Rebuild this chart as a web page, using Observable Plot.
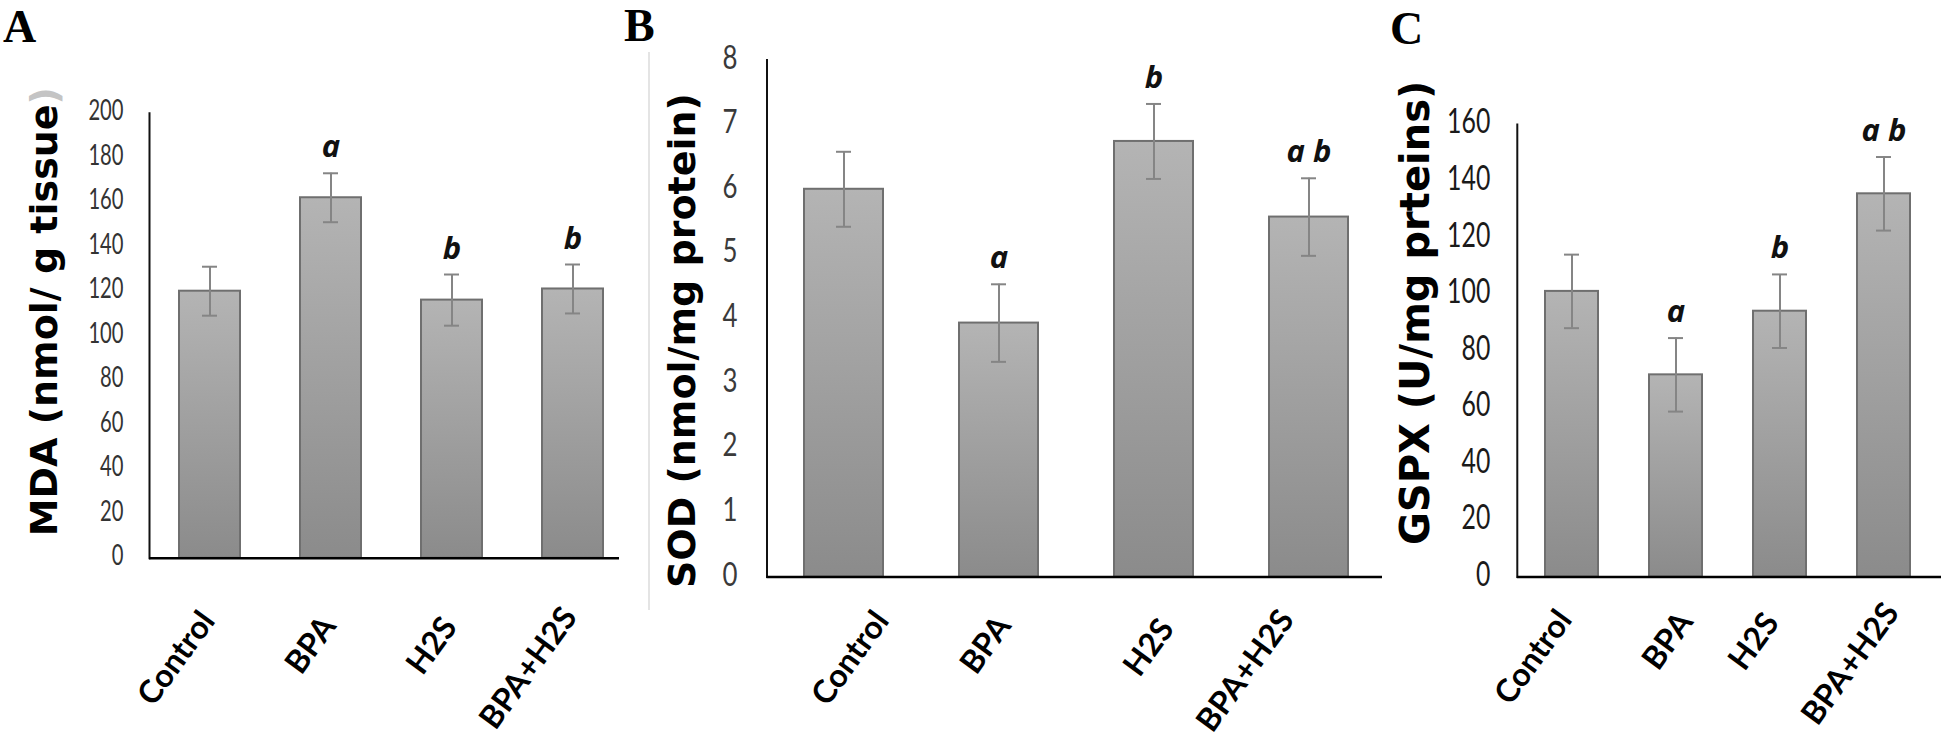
<!DOCTYPE html>
<html><head><meta charset="utf-8">
<script src="https://cdn.jsdelivr.net/npm/d3@7"></script>
<script src="https://cdn.jsdelivr.net/npm/@observablehq/plot@0.6"></script>
<style>
body{margin:0;background:#fff;}
#fig{position:relative;width:1944px;height:741px;overflow:hidden;background:#fff;}
.panel{position:absolute;top:0;}
.plabel{position:absolute;font-family:"Liberation Serif","Times New Roman",serif;font-weight:bold;font-size:46px;line-height:1.1;color:#000;}
.sep{position:absolute;left:648px;top:52px;width:2px;height:558px;background:#e4e4e4;}
</style></head><body>
<div id="fig">
  <div class="sep"></div>
  <div class="plabel" style="left:3px;top:2px">A</div>
  <div class="plabel" style="left:624px;top:1px">B</div>
  <div class="plabel" style="left:1390px;top:4px">C</div>
</div>
<script>
// ---- data ----
const groups = ["Control", "BPA", "H2S", "BPA+H2S"];

const mdaMean = [120, 162, 116, 121];
const mdaErr = [11, 11, 11.5, 11];
const mdaSig = ["", "a", "b", "b"];
const mdaTicks = [0, 20, 40, 60, 80, 100, 120, 140, 160, 180, 200];

const sodMean = [6.0, 3.93, 6.74, 5.57];
const sodErr = [0.58, 0.6, 0.58, 0.6];
const sodSig = ["", "a", "b", "a b"];
const sodTicks = [0, 1, 2, 3, 4, 5, 6, 7, 8];

const gpxMean = [101, 71.5, 94, 135.5];
const gpxErr = [13, 13, 13, 13];
const gpxSig = ["", "a", "b", "a b"];
const gpxTicks = [0, 20, 40, 60, 80, 100, 120, 140, 160];

const titles = ["MDA (nmol/ g tissue)", "SOD (nmol/mg protein)", "GSPX (U/mg prteins)"];

// ---- panels ----
function panel(cfg) {
  const data = groups.map((g, i) => ({g, v: cfg.mean[i], e: cfg.err[i], s: cfg.sig[i]}));
  const H = 741;
  const svg = Plot.plot({
    width: cfg.width, height: H,
    marginLeft: cfg.ml, marginRight: cfg.mr, marginTop: cfg.mt, marginBottom: cfg.mb,
    style: {background: "transparent", overflow: "visible"},
    x: {domain: groups, paddingInner: cfg.pi, paddingOuter: cfg.po, align: cfg.align},
    y: {domain: [cfg.ticks[0], cfg.ticks[cfg.ticks.length - 1]], nice: false},
    marks: [
      Plot.barY(data, {x: "g", y: "v", fill: `url(#${cfg.gid})`, stroke: "#6f6f6f", strokeWidth: 2}),
      Plot.ruleX(data, {x: "g", y1: d => d.v - d.e, y2: d => d.v + d.e, stroke: "#858585", strokeWidth: 2}),
      Plot.tickY(data, {x: "g", y: d => d.v + d.e, stroke: "#858585", strokeWidth: 2, insetLeft: cfg.cap, insetRight: cfg.cap}),
      Plot.tickY(data, {x: "g", y: d => d.v - d.e, stroke: "#858585", strokeWidth: 2, insetLeft: cfg.cap, insetRight: cfg.cap}),
      Plot.text(data, {x: "g", y: d => d.v + d.e, text: "s", lineAnchor: "bottom", dy: -16,
        fontSize: 31, fontWeight: "bold", fontStyle: "italic", fontFamily: "'Open Sans', sans-serif", fill: "#111"}),
      Plot.axisY({ticks: cfg.ticks, tickSize: 0, tickPadding: cfg.tp, dy: -2, label: null,
        fontSize: cfg.tfs, fontFamily: "Lato, sans-serif", color: cfg.tcol}),
      Plot.axisX({tickRotate: -54, tickSize: 0, tickPadding: cfg.xtp, dx: cfg.xdx, label: null,
        fontSize: 32, fontWeight: "bold", fontFamily: "Lato, sans-serif", color: "#000"}),
      Plot.frame({anchor: "left", stroke: "#111", strokeWidth: 2}),
      Plot.ruleY([cfg.ticks[0]], {stroke: "#000", strokeWidth: 2.5}),
      Plot.text([cfg.title], {frameAnchor: "left", rotate: -90, dx: cfg.tdx, dy: cfg.tdy,
        textAnchor: "middle", lineAnchor: "bottom",
        fontSize: cfg.tfz, fontWeight: "bold", fontFamily: "'DejaVu Sans', sans-serif", fill: "#000"})
    ]
  });
  const s = d3.select(svg);
  const lg = s.insert("defs", ":first-child").append("linearGradient")
    .attr("id", cfg.gid).attr("x1", 0).attr("y1", 0).attr("x2", 0).attr("y2", 1);
  lg.append("stop").attr("offset", "0%").attr("stop-color", "#b4b4b4");
  lg.append("stop").attr("offset", "100%").attr("stop-color", "#8b8b8b");
  // narrow the y tick labels like the reference's condensed digits
  s.selectAll('g[aria-label="y-axis tick label"] text').each(function () {
    const n = this.textContent.length;
    d3.select(this).attr("textLength", n * cfg.cw).attr("lengthAdjust", "spacingAndGlyphs");
  });
  // small per-label nudges of the rotated category labels (as placed in the reference)
  s.selectAll('g[aria-label="x-axis tick label"] text').each(function (d, i) {
    const k = groups.indexOf(this.textContent);
    const n = cfg.nudge[k >= 0 ? k : i] || [0, 0];
    const t = this.getAttribute("transform") || "";
    this.setAttribute("transform", `translate(${n[0]},${n[1]}) ${t}`);
  });
  if (cfg.tailGray) {
    s.selectAll("text").filter(function () { return this.textContent === cfg.title; }).each(function () {
      const t = d3.select(this);
      t.text(null);
      t.append("tspan").text(cfg.title.slice(0, -1));
      t.append("tspan").attr("fill", "#c4c4c4").text(cfg.title.slice(-1));
    });
  }
  const div = document.createElement("div");
  div.className = "panel";
  div.style.left = cfg.left + "px";
  div.appendChild(svg);
  document.getElementById("fig").appendChild(div);
}

panel({left: 0, width: 650, ml: 149, mr: 31, mt: 112.7, mb: 183.3,
  mean: mdaMean, err: mdaErr, sig: mdaSig, ticks: mdaTicks, title: titles[0], tailGray: true,
  pi: 0.5, po: 0.187, align: 0.647, cap: 23, tp: 26, tfs: 29, cw: 11.7, tcol: "#333",
  xtp: 59, xdx: -2, nudge: [[0, -2], [0, 3], [0, 4], [-1, -6]],
  tdx: -93, tdy: -24, tfz: 38, gid: "gA"});

panel({left: 650, width: 740, ml: 116.5, mr: 8, mt: 59.5, mb: 164.4,
  mean: sodMean, err: sodErr, sig: sodSig, ticks: sodTicks, title: titles[1],
  pi: 0.493, po: 0.228, align: 0.52, cap: 32, tp: 29.5, tfs: 33, cw: 15, tcol: "#3a3a3a",
  xtp: 41, xdx: 0, nudge: [[38, -3], [5, 2], [13, 5], [-22, -4]],
  tdx: -72.5, tdy: 22, tfz: 38, gid: "gB"});

panel({left: 1390, width: 554, ml: 126.8, mr: 3, mt: 124, mb: 164.4,
  mean: gpxMean, err: gpxErr, sig: gpxSig, ticks: gpxTicks, title: titles[2],
  pi: 0.494, po: 0.274, align: 0.47, cap: 19, tp: 27, tfs: 34, cw: 14.4, tcol: "#1a1a1a",
  xtp: 37, xdx: 0, nudge: [[-7, 0], [10, 2], [-8, 3], [8, -7]],
  tdx: -88, tdy: -38, tfz: 40, gid: "gC"});
</script>
</body></html>
